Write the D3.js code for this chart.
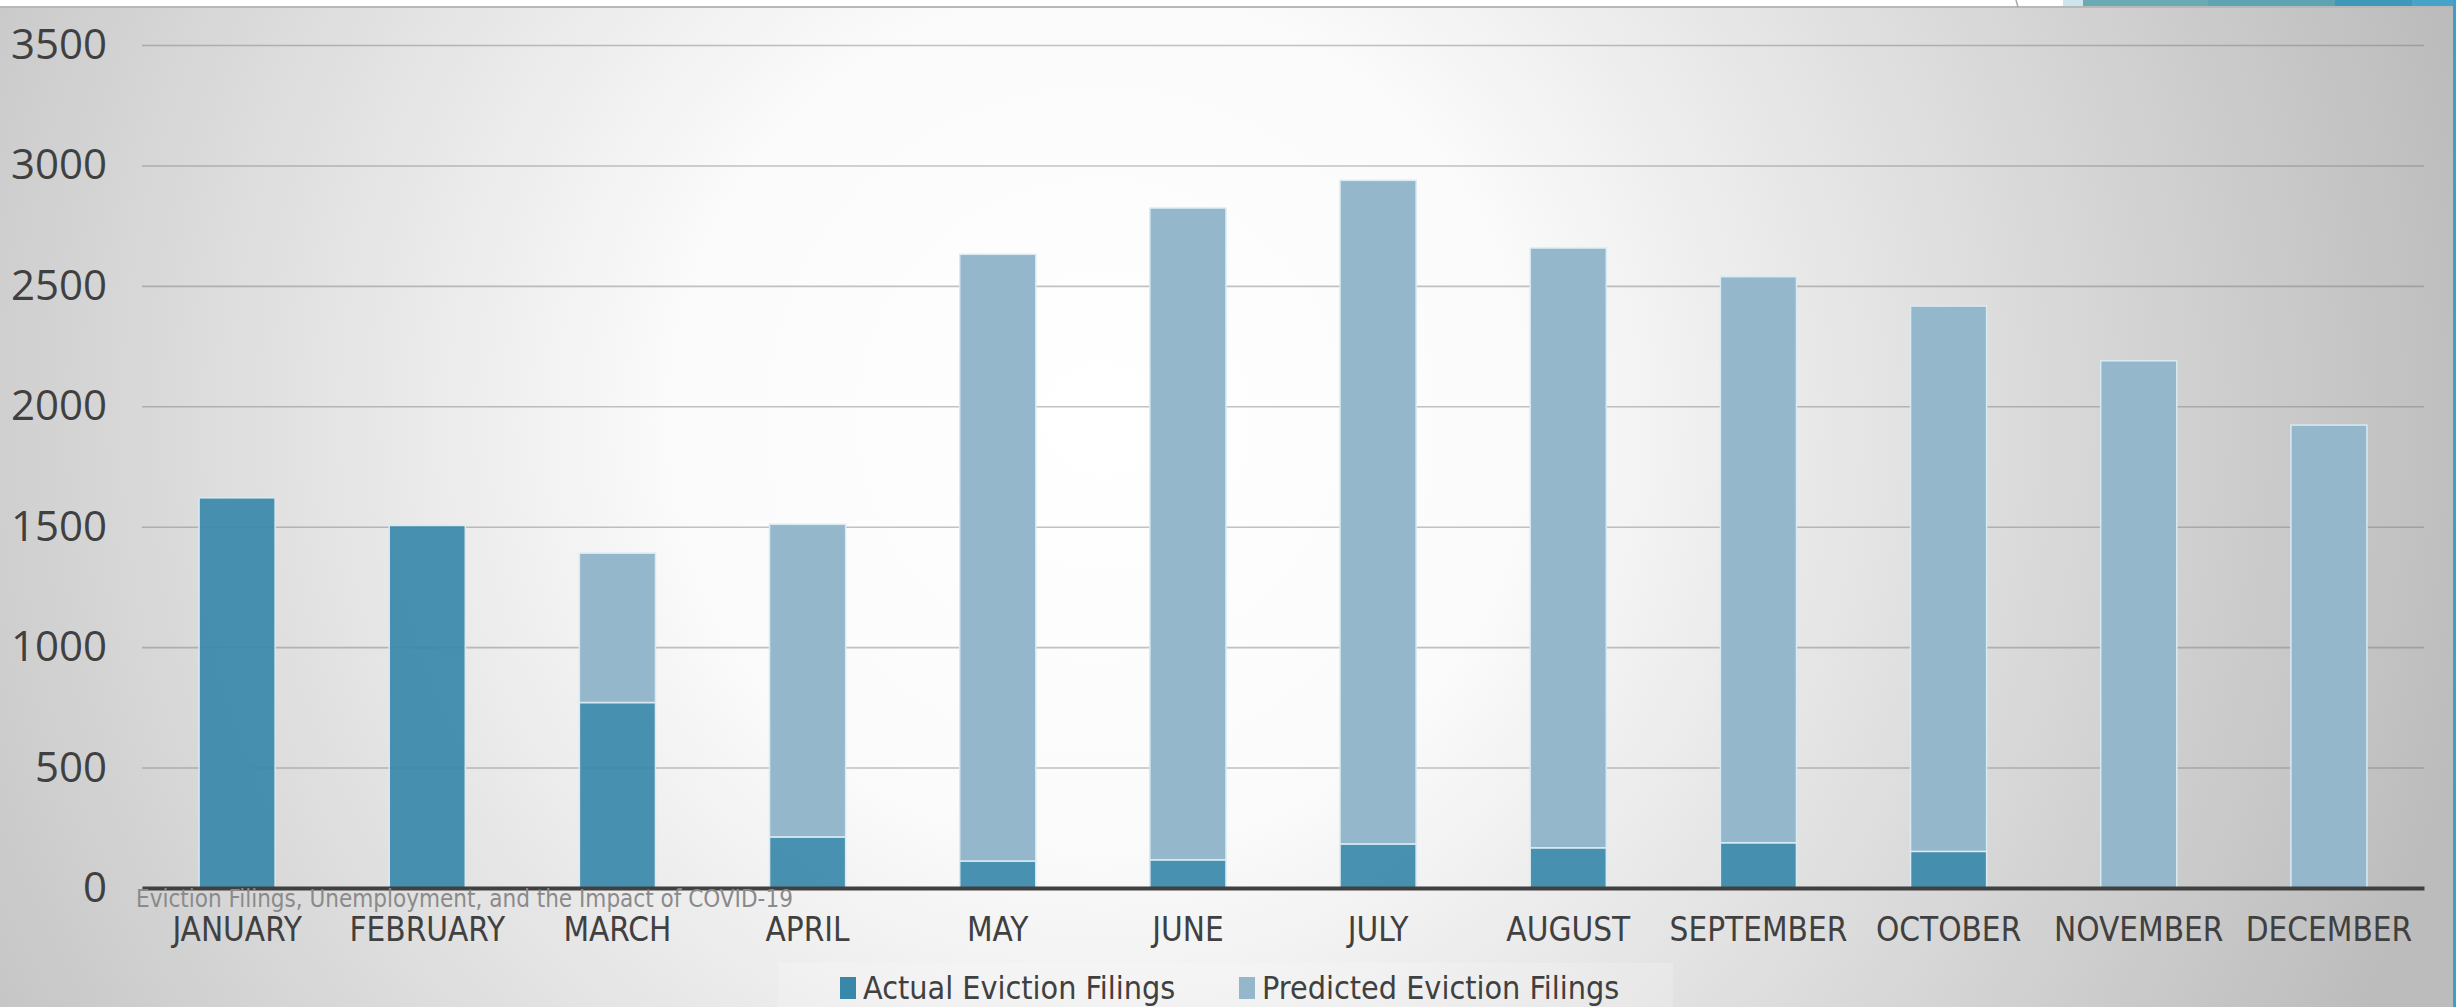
<!DOCTYPE html>
<html>
<head>
<meta charset="utf-8">
<script src="https://d3js.org/d3.v7.min.js"></script>
<style>
  body { margin: 0; overflow: hidden; background: #fff; }
  svg { display: block; }
  .y-axis text { font-family: "Open Sans", sans-serif; font-size: 42px; fill: #404040; }
  .x-axis text { font-family: "Liberation Sans Narrow", "DejaVu Sans Condensed", sans-serif; font-size: 33px; fill: #404040; }
  .legend text { font-family: "Liberation Sans Narrow", "DejaVu Sans Condensed", sans-serif; font-size: 32px; fill: #404040; }
</style>
</head>
<body>
<div id="chart"></div>
<script>
// values
var months = ["JANUARY", "FEBRUARY", "MARCH", "APRIL", "MAY", "JUNE",
              "JULY", "AUGUST", "SEPTEMBER", "OCTOBER", "NOVEMBER", "DECEMBER"];
var actual = [1620, 1505, 770, 212, 112, 117, 183, 167, 188, 152, 0, 0];
var predicted = [0, 0, 620, 1298, 2519, 2706, 2755, 2490, 2350, 2264, 2189, 1922];
var yTicks = [0, 500, 1000, 1500, 2000, 2500, 3000, 3500];
var seriesNames = ["Actual Eviction Filings", "Predicted Eviction Filings"];
var seriesColors = ["#3a88a9", "#95b7cc"];
var caption = "Eviction Filings, Unemployment, and the Impact of COVID-19";

var W = 2456, H = 1007;
var plotLeft = 142, plotRight = 2424, plotTop = 45, plotBottom = 888;

var svg = d3.select("#chart").append("svg")
    .attr("width", W)
    .attr("height", H);

// background
var defs = svg.append("defs");
var grad = defs.append("radialGradient")
    .attr("id", "bg")
    .attr("gradientUnits", "userSpaceOnUse")
    .attr("cx", 1100).attr("cy", 420).attr("r", 1400);
grad.append("stop").attr("offset", 0).attr("stop-color", "#ffffff");
grad.append("stop").attr("offset", 0.3).attr("stop-color", "#fbfbfb");
grad.append("stop").attr("offset", 1).attr("stop-color", "#bcbcbc");

svg.append("rect").attr("width", W).attr("height", H).attr("fill", "#ffffff");
svg.append("rect").attr("x", 0).attr("y", 7).attr("width", 2453).attr("height", H - 7)
    .attr("fill", "url(#bg)");
svg.append("line").attr("x1", 0).attr("x2", 2453).attr("y1", 7).attr("y2", 7)
    .attr("stroke", "#b8b8b8").attr("stroke-width", 2);

// slide decoration, top right and right edge
var deco = [[2063, 20, "#cfe5ee"], [2083, 125, "#69aab3"], [2208, 127, "#5ca4b1"],
            [2335, 77, "#3f97b9"], [2412, 44, "#48a3c9"]];
deco.forEach(function(d) {
  svg.append("rect").attr("x", d[0]).attr("y", 0).attr("width", d[1]).attr("height", 6)
      .attr("fill", d[2]);
});
svg.append("line").attr("x1", 2016).attr("x2", 2018).attr("y1", 0).attr("y2", 7)
    .attr("stroke", "#a8a8a8").attr("stroke-width", 1.5);
svg.append("rect").attr("x", 2453).attr("y", 0).attr("width", 3).attr("height", H)
    .attr("fill", "#3e9fc6");

// scales
var x = d3.scaleBand().domain(months).range([plotLeft, plotRight])
    .paddingInner(0.6).paddingOuter(0.3);
var y = d3.scaleLinear().domain([0, 3500]).range([plotBottom, plotTop]);

// gridlines + y labels
var yAxis = svg.append("g")
    .attr("class", "y-axis")
    .attr("transform", "translate(" + plotLeft + ",0)")
    .call(d3.axisLeft(y).tickValues(yTicks).tickFormat(d3.format("d"))
          .tickSize(-(plotRight - plotLeft)).tickPadding(35));
yAxis.select(".domain").remove();
yAxis.selectAll(".tick line")
    .attr("stroke", "#7a7a7a").attr("stroke-opacity", 0.45).attr("stroke-width", 1.6);

// stacked bars
var rows = months.map(function(m, i) {
  return {month: m, actual: actual[i], predicted: predicted[i]};
});
var stacked = d3.stack().keys(["actual", "predicted"])(rows);

svg.append("g").selectAll("g")
  .data(stacked)
  .join("g")
    .attr("fill", function(d, i) { return seriesColors[i]; })
    .attr("fill-opacity", function(d, i) { return i == 0 ? 0.92 : 1; })
  .selectAll("rect")
  .data(function(d) { return d.filter(function(v) { return v[1] > v[0]; }); })
  .join("rect")
    .attr("x", function(d) { return x(d.data.month); })
    .attr("y", function(d) { return y(d[1]); })
    .attr("width", x.bandwidth())
    .attr("height", function(d) { return y(d[0]) - y(d[1]); })
    .attr("stroke", "#d9eaf2")
    .attr("stroke-width", 1.5);

// x axis
var xAxis = svg.append("g")
    .attr("class", "x-axis")
    .attr("transform", "translate(0," + plotBottom + ")")
    .call(d3.axisBottom(x).tickSize(0).tickPadding(30));
xAxis.select(".domain").attr("stroke", "#404040").attr("stroke-width", 4);

// caption over the axis
svg.append("text")
    .attr("x", 136).attr("y", 907)
    .attr("font-family", "'Liberation Sans Narrow', 'DejaVu Sans Condensed', sans-serif")
    .attr("font-size", 24)
    .attr("fill", "#8a8a8a")
    .text(caption);

// legend
svg.append("rect").attr("x", 778).attr("y", 963).attr("width", 895).attr("height", 44)
    .attr("fill", "#ffffff").attr("fill-opacity", 0.18);
var legend = svg.append("g").attr("class", "legend");
var legendX = [840, 1239];
seriesNames.forEach(function(name, i) {
  legend.append("rect")
      .attr("x", legendX[i]).attr("y", 977)
      .attr("width", 16).attr("height", 22)
      .attr("fill", seriesColors[i]);
  legend.append("text")
      .attr("x", legendX[i] + 23).attr("y", 999)
      .text(name);
});
</script>
</body>
</html>
